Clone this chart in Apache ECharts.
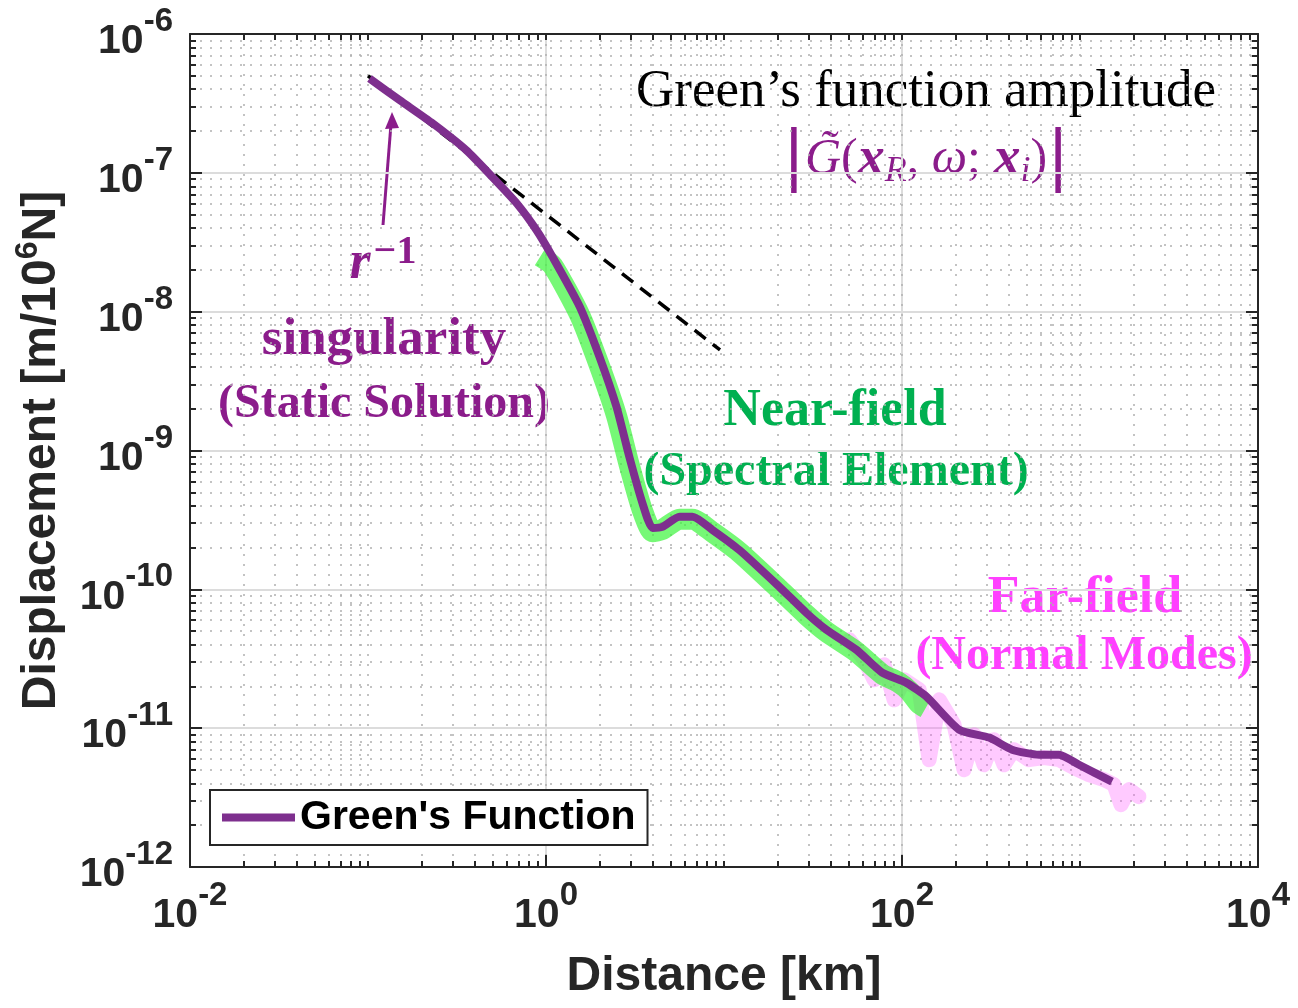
<!DOCTYPE html>
<html>
<head>
<meta charset="utf-8">
<script src="https://cdn.jsdelivr.net/npm/echarts@6/dist/echarts.min.js"></script>
<style>
  html, body { margin: 0; padding: 0; background: #fff; }
  #chart { width: 1298px; height: 1008px; }
</style>
</head>
<body>
<div id="chart"></div>
<script>
// Green's function (purple) - distance [km], displacement [m/10^6 N]
const gfDist = [0.102, 0.151, 0.231, 0.358, 0.501, 0.684, 0.885, 1.09, 1.55, 2.0, 2.49, 2.94, 3.48, 3.97, 4.51, 5.62, 6.65, 8.61, 12.2, 20.5, 29.0, 37.6, 55.4, 77.4, 106, 137, 209, 309, 415, 589, 763, 987, 1513];
const gfDisp = [4.78e-7, 3.33e-7, 2.27e-7, 1.45e-7, 9.3e-8, 6.04e-8, 3.86e-8, 2.47e-8, 1.08e-8, 4.71e-9, 2.06e-9, 8.98e-10, 4.19e-10, 2.77e-10, 2.82e-10, 3.33e-10, 3.33e-10, 2.68e-10, 1.92e-10, 1.04e-10, 6.77e-11, 5.12e-11, 3.67e-11, 2.51e-11, 2.12e-11, 1.69e-11, 9.76e-12, 8.55e-12, 7.0e-12, 6.44e-12, 6.44e-12, 5.45e-12, 4.12e-12];

// near-field (spectral element) band
const nearDist = [0.93, 1.09, 1.55, 2.0, 2.49, 2.94, 3.48, 3.97, 4.51, 5.62, 6.65, 8.61, 12.2, 20.5, 29.0, 37.6, 55.4, 77.4, 95, 110, 125, 136];
const nearDisp = [2.5e-8, 2.15e-8, 9.4e-9, 4.05e-9, 1.78e-9, 7.8e-10, 3.7e-10, 2.6e-10, 2.7e-10, 3.2e-10, 3.2e-10, 2.58e-10, 1.85e-10, 1.0e-10, 6.55e-11, 4.95e-11, 3.55e-11, 2.45e-11, 2.15e-11, 1.85e-11, 1.5e-11, 1.4e-11];

// far-field (normal modes) band
const farDist = [50.6, 61.4, 69.8, 79.4, 90.4, 102.8, 125, 142, 162, 196, 223, 254, 289, 329, 374, 426, 517, 628, 763, 925, 1124, 1365, 1552, 1700, 1884, 2143];
const farDisp = [4.34e-11, 3.11e-11, 2.23e-11, 2.86e-11, 1.6e-11, 2.23e-11, 1.89e-11, 5.93e-12, 1.6e-11, 1.06e-11, 5.02e-12, 8.97e-12, 5.45e-12, 8.26e-12, 5.45e-12, 7.0e-12, 5.93e-12, 6.14e-12, 5.93e-12, 5.2e-12, 4.63e-12, 4.26e-12, 3.92e-12, 2.81e-12, 3.61e-12, 3.21e-12];

// r^-1 reference slope
const slopeDist = [0.1, 9.5];
const slopeDisp = [5.0e-7, 5.3e-9];

const xMin = 0.01, xMax = 10000;
const yMin = 1e-12, yMax = 1e-6;

const zip = (a, b) => a.map((v, i) => [v, b[i]]);
const expLabel = v => '{b|10}{s|' + Math.round(Math.log10(v)) + '}';

const axisColor = '#262626';
const tickFont = {
  b: { fontSize: 41, fontWeight: 'bold', fontFamily: 'Liberation Sans', color: axisColor, verticalAlign: 'bottom' },
  s: { fontSize: 33, fontWeight: 'bold', fontFamily: 'Liberation Sans', color: axisColor, verticalAlign: 'top', padding: [0, 0, 24, 0] }
};
const dotted = { color: '#b0b0b0', width: 1.5, type: [2, 8] };

const purple = '#8B1C8B';
const serif = 'Liberation Serif';

const chart = echarts.init(document.getElementById('chart'));
chart.setOption({
  backgroundColor: '#fff',
  animation: false,
  grid: { left: 190, top: 34, right: 40, bottom: 141 },
  legend: {
    data: ["Green's Function"],
    left: 210, top: 790,
    orient: 'vertical',
    icon: 'rect', itemWidth: 73, itemHeight: 8, itemGap: 10,
    padding: [7, 12, 7, 12],
    borderColor: axisColor, borderWidth: 2, backgroundColor: '#fff', borderRadius: 0,
    textStyle: { fontSize: 41, fontWeight: 'bold', fontFamily: 'Liberation Sans', color: '#000' }
  },
  xAxis: [
    {
      type: 'log', logBase: 10, min: xMin, max: xMax, interval: 2, position: 'bottom',
      name: 'Distance [km]', nameLocation: 'middle', nameGap: 86,
      nameTextStyle: { fontSize: 48, fontWeight: 'bold', fontFamily: 'Liberation Sans', color: axisColor },
      axisLine: { lineStyle: { color: axisColor, width: 2 } },
      axisTick: { inside: true, length: 12, lineStyle: { color: axisColor, width: 2 } },
      axisLabel: { margin: 12, formatter: expLabel, rich: tickFont },
      splitLine: { show: true, lineStyle: { color: '#dcdcdc', width: 2 } }
    },
    {
      type: 'log', logBase: 10, min: xMin, max: xMax, interval: 1, position: 'bottom',
      axisLine: { show: false },
      axisLabel: { show: false },
      axisTick: { inside: true, length: 6, lineStyle: { color: axisColor, width: 2 } },
      minorTick: { show: true, splitNumber: 9, length: 6, lineStyle: { color: axisColor, width: 2 } },
      splitLine: { show: true, lineStyle: dotted },
      minorSplitLine: { show: true, lineStyle: dotted }
    },
    {
      type: 'log', logBase: 10, min: xMin, max: xMax, interval: 1, position: 'top',
      axisLine: { show: true, lineStyle: { color: axisColor, width: 2 } },
      axisLabel: { show: false },
      axisTick: { inside: true, length: 6, lineStyle: { color: axisColor, width: 2 } },
      minorTick: { show: true, splitNumber: 9, length: 6, lineStyle: { color: axisColor, width: 2 } },
      splitLine: { show: false }
    }
  ],
  yAxis: [
    {
      type: 'log', logBase: 10, min: yMin, max: yMax, interval: 1, position: 'left',
      name: '{t|Displacement [m/10}{s|6}{t|N]}', nameLocation: 'middle', nameGap: 124, nameRotate: 90,
      nameTextStyle: {
        rich: {
          t: { fontSize: 48, fontWeight: 'bold', fontFamily: 'Liberation Sans', color: axisColor, verticalAlign: 'bottom' },
          s: { fontSize: 32, fontWeight: 'bold', fontFamily: 'Liberation Sans', color: axisColor, verticalAlign: 'top', padding: [0, 0, 22, 0] }
        }
      },
      axisLine: { lineStyle: { color: axisColor, width: 2 } },
      axisTick: { inside: true, length: 12, lineStyle: { color: axisColor, width: 2 } },
      minorTick: { show: true, splitNumber: 9, length: 6, lineStyle: { color: axisColor, width: 2 } },
      axisLabel: { margin: 17, formatter: expLabel, rich: tickFont },
      splitLine: { show: true, lineStyle: { color: '#dcdcdc', width: 2 } },
      minorSplitLine: { show: true, lineStyle: dotted }
    },
    {
      type: 'log', logBase: 10, min: yMin, max: yMax, interval: 1, position: 'right',
      axisLine: { show: true, lineStyle: { color: axisColor, width: 2 } },
      axisLabel: { show: false },
      axisTick: { inside: true, length: 12, lineStyle: { color: axisColor, width: 2 } },
      minorTick: { show: true, splitNumber: 9, length: 6, lineStyle: { color: axisColor, width: 2 } },
      splitLine: { show: false }
    }
  ],
  series: [
    {
      name: 'Far-field', type: 'line', xAxisIndex: 0, yAxisIndex: 0,
      data: zip(farDist, farDisp), showSymbol: false, silent: true,
      lineStyle: { color: 'rgba(255,90,255,0.32)', width: 15, cap: 'round', join: 'round' }
    },
    {
      name: 'Near-field', type: 'line', xAxisIndex: 0, yAxisIndex: 0,
      data: zip(nearDist, nearDisp), showSymbol: false, silent: true, smooth: 0.2,
      lineStyle: { color: 'rgba(60,245,60,0.7)', width: 21, cap: 'butt', join: 'round' }
    },
    {
      name: 'r^-1', type: 'line', xAxisIndex: 0, yAxisIndex: 0,
      data: zip(slopeDist, slopeDisp), showSymbol: false, silent: true,
      lineStyle: { color: '#000', width: 3.5, type: [14, 9] }
    },
    {
      name: "Green's Function", type: 'line', xAxisIndex: 0, yAxisIndex: 0,
      data: zip(gfDist, gfDisp), showSymbol: false, smooth: 0.2,
      itemStyle: { color: '#7E2F8E' },
      lineStyle: { color: '#7E2F8E', width: 8, join: 'round' }
    }
  ],
  graphic: [
    { type: 'text', x: 926, y: 92, style: { text: 'Green’s function amplitude', font: '53px "Liberation Serif"', fill: '#000', align: 'center', verticalAlign: 'middle' } },
    {
      type: 'text', x: 926, y: 160,
      style: {
        text: '{bar||}{g|G\u0303}{n|(}{x|x}{sub|R}{n|, }{w|ω}{n|; }{x|x}{sub|i}{n|)}{bar||}',
        align: 'center', verticalAlign: 'middle', fill: purple,
        rich: {
          bar: { fontSize: 66, fontFamily: 'DejaVu Sans', fill: purple },
          g: { fontSize: 50, fontFamily: serif, fontStyle: 'italic', fill: purple },
          n: { fontSize: 50, fontFamily: serif, fill: purple },
          w: { fontSize: 50, fontFamily: serif, fontStyle: 'italic', fill: purple },
          x: { fontSize: 54, fontFamily: serif, fontStyle: 'italic', fontWeight: 'bold', fill: purple },
          sub: { fontSize: 36, fontFamily: serif, fontStyle: 'italic', fill: purple, padding: [24, 0, 0, 0] }
        }
      }
    },
    {
      type: 'text', x: 383, y: 262,
      style: {
        text: '{r|r}{s|−1}', align: 'center', verticalAlign: 'middle', fill: purple,
        rich: {
          r: { fontSize: 54, fontFamily: serif, fontStyle: 'italic', fontWeight: 'bold', fill: purple, verticalAlign: 'bottom' },
          s: { fontSize: 40, fontFamily: serif, fontWeight: 'bold', fill: purple, verticalAlign: 'top', padding: [0, 0, 18, 3] }
        }
      }
    },
    { type: 'text', x: 384, y: 340, style: { text: 'singularity', font: 'bold 53px "Liberation Serif"', fill: purple, align: 'center', verticalAlign: 'middle' } },
    { type: 'text', x: 384, y: 405, style: { text: '(Static Solution)', font: 'bold 48px "Liberation Serif"', fill: purple, align: 'center', verticalAlign: 'middle' } },
    { type: 'text', x: 835, y: 412, style: { text: 'Near-field', font: 'bold 52px "Liberation Serif"', fill: '#00B050', align: 'center', verticalAlign: 'middle' } },
    { type: 'text', x: 836, y: 473, style: { text: '(Spectral Element)', font: 'bold 48px "Liberation Serif"', fill: '#00B050', align: 'center', verticalAlign: 'middle' } },
    { type: 'text', x: 1085, y: 599, style: { text: 'Far-field', font: 'bold 52px "Liberation Serif"', fill: '#FF40FF', align: 'center', verticalAlign: 'middle' } },
    { type: 'text', x: 1084, y: 657, style: { text: '(Normal Modes)', font: 'bold 48px "Liberation Serif"', fill: '#FF40FF', align: 'center', verticalAlign: 'middle' } },
    { type: 'line', shape: { x1: 383, y1: 225, x2: 391, y2: 124 }, style: { stroke: purple, lineWidth: 3 } },
    { type: 'polygon', shape: { points: [[392, 112], [385, 129], [399, 128]] }, style: { fill: purple } }
  ]
});
</script>
</body>
</html>
